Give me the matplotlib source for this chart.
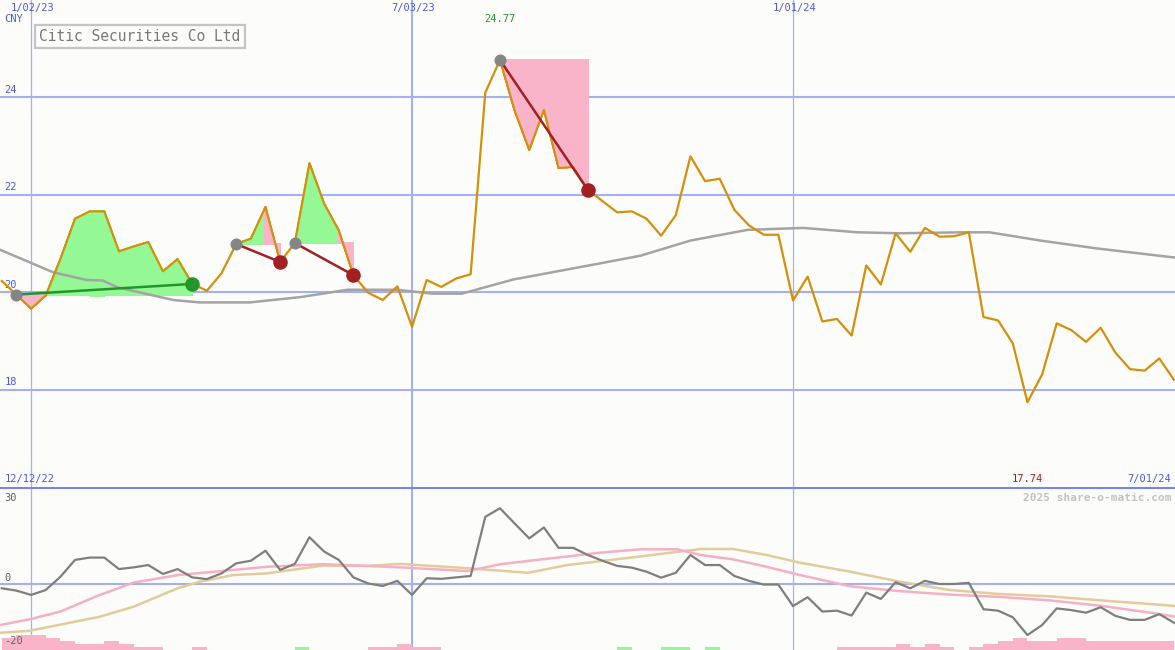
import numpy as np
import matplotlib
matplotlib.use("Agg")
import matplotlib.pyplot as plt
import matplotlib.transforms as mtransforms

# weekly closes, week 0 = 1/02/23
weeks = np.arange(-2, 79)
price = [20.23, 19.95, 19.66, 19.93, 20.68, 21.51, 21.66, 21.66, 20.84, 20.94,
         21.03, 20.43, 20.68, 20.17, 20.03, 20.39, 20.99, 21.10, 21.75, 20.62,
         21.01, 22.65, 21.82, 21.27, 20.35, 19.99, 19.84, 20.12, 19.29, 20.25,
         20.11, 20.28, 20.37, 24.10, 24.77, 23.73, 22.92, 23.74, 22.55, 22.57,
         22.10, 21.87, 21.64, 21.66, 21.51, 21.16, 21.58, 22.79, 22.28, 22.33,
         21.69, 21.37, 21.18, 21.18, 19.83, 20.32, 19.40, 19.45, 19.11, 20.55,
         20.16, 21.21, 20.83, 21.32, 21.14, 21.15, 21.23, 19.49, 19.42, 18.95,
         17.74, 18.31, 19.36, 19.22, 18.98, 19.27, 18.76, 18.42, 18.39, 18.64,
         18.20]

# long moving average (read at a few points)
ma_weeks = [-2.1, 1.5, 3.8, 4.9, 5.9, 9.7, 11.5, 14.9, 18.4, 21.6, 25, 27.4, 29.4,
            30.6, 32.9, 36.3, 38.8, 41.6, 45, 48.9, 52.7, 56.4, 59.3, 63.6, 65.4,
            68.9, 72.7, 78.1]
ma_vals = [20.87, 20.41, 20.25, 20.24, 20.10, 19.84, 19.79, 19.79, 19.90, 20.05,
           20.05, 19.97, 19.97, 20.07, 20.26, 20.45, 20.59, 20.75, 21.06, 21.28,
           21.32, 21.23, 21.21, 21.23, 21.23, 21.06, 20.90, 20.71]

# (start week, end week, rising?)
events = [(-1, 11, True), (14, 17, False), (18, 22, False), (32, 38, False)]

# lower panel
mom = [-1.6, -2.4, -3.9, -2.2, 2.4, 8.3, 9.1, 9.1, 5.1, 5.7, 6.5, 3.4, 5.1, 2.2,
       1.6, 3.6, 7.1, 8.0, 11.5, 4.8, 6.9, 16.2, 11.2, 8.3, 2.2, 0.1, -0.8, 1.0,
       -3.9, 1.9, 1.7, 2.2, 2.7, 23.3, 26.3, 21.0, 15.8, 19.6, 12.5, 12.5, 10.0,
       8.0, 6.2, 5.6, 4.2, 2.1, 3.8, 10.0, 6.5, 6.5, 2.7, 1.0, -0.3, -0.3, -7.8,
       -4.7, -9.7, -9.4, -11.1, -3.1, -5.3, 0.5, -1.6, 1.0, -0.1, -0.1, 0.3,
       -8.9, -9.4, -11.7, -17.9, -14.4, -8.6, -9.2, -10.1, -8.2, -11.2, -12.6,
       -12.6, -10.6, -13.6]

pink_weeks = [-2.1, -0.1, 2.0, 4.7, 7.0, 10.0, 13.8, 16.1, 19.9, 22.5, 25.2, 29.8,
              32.0, 35.4, 38.8, 41.6, 44.1, 45.7, 47.9, 50.2, 52.5, 55.9, 59.3,
              62.7, 66.1, 69.5, 73.0, 76.4, 78.1]
pink_vals = [-14.4, -12.4, -9.7, -3.9, 0.4, 3.0, 4.8, 5.9, 6.8, 6.3, 5.7, 4.4, 6.8,
             8.8, 10.8, 12.0, 12.0, 10.0, 8.5, 5.9, 3.0, -0.9, -2.6, -3.8, -4.6,
             -5.8, -7.7, -10.1, -11.5]

tan_weeks = [-2.1, -0.1, 4.7, 7.0, 10.0, 11.5, 13.8, 16.1, 19.9, 22.9, 25.2, 29.8,
             33.9, 36.6, 41.1, 45.7, 47.9, 50.2, 52.5, 55.9, 59.3, 62.7, 66.1,
             69.5, 73.0, 76.4, 78.1]
tan_vals = [-17.1, -16.4, -11.5, -8.0, -1.6, 0.7, 3.0, 3.6, 6.3, 6.2, 6.9, 5.4,
            3.8, 6.5, 9.2, 12.1, 12.1, 10.0, 7.3, 4.2, 0.7, -2.2, -3.6, -4.4,
            -5.8, -7.1, -7.8]

# histogram levels per week from week -2 (negative = pink, positive = green)
hist = [-4, -5, -5, -4, -3, -2, -2, -3, -2, -1, -1,
        0, 0, -1,
        0, 0, 0, 0, 0, 0,
        1,
        0, 0, 0, 0,
        -1, -1, -2, -1, -1,
        0, 0, 0, 0, 0, 0, 0, 0, 0, 0, 0, 0,
        1, 0, 0, 1, 1, 0, 1,
        0, 0, 0, 0, 0, 0, 0, 0,
        -1, -1, -1, -1, -2, -1, -2, -1, 0, -1, -2, -3, -4, -3, -3, -4, -4,
        -3, -3, -3, -3, -3, -3]

date_weeks = [0, 26, 52]
date_labels = ["1/02/23", "7/03/23", "1/01/24"]
price_grid = [18, 20, 22, 24]

bg = "#fcfdfa"
grid_c = "#a3b1f2"
blue_txt = "#4a5ae8"
gold = "#d4900a"
green_fill = "#94f894"
pink_fill = "#f9b4c9"
mono = "DejaVu Sans Mono"

fig = plt.figure(figsize=(11.75, 6.5), dpi=100, facecolor=bg)
ax = fig.add_axes([0, 163 / 650, 1, 487 / 650])
bx = fig.add_axes([0, 0, 1, 163 / 650])
xmin, xmax = -2.12, 78.07
top_tr = mtransforms.blended_transform_factory(ax.transData, ax.transAxes)

# ---- main panel
ax.set_xlim(xmin, xmax)
ax.set_ylim(16, 26)
ax.set_axis_off()
for g in price_grid:
    ax.axhline(g, color=grid_c, lw=1.5, zorder=1)
    ax.text(xmin + 0.3, g + 0.05, str(g), color=blue_txt, fontsize=7.5,
            family=mono, va="bottom", ha="left")
for w, lab in zip(date_weeks, date_labels):
    ax.axvline(w, color=grid_c, lw=1.5 if w == 26 else 0.9, zorder=1)
    bx.axvline(w, color=grid_c, lw=1.5 if w == 26 else 0.9, zorder=1)
    ax.text(w + 0.1, 0.984, lab, transform=top_tr, color=blue_txt,
            fontsize=7.5, family=mono, ha="center", va="center")
ax.text(0.004, 0.961, "CNY", transform=ax.transAxes, color=blue_txt, fontsize=7.5,
        family=mono, va="center", ha="left")

p = np.array(price)
for s, e, up in events:
    base = p[weeks == s][0]
    for w0 in range(s, e):
        y0, y1 = p[weeks == w0][0], p[weeks == w0 + 1][0]
        c = green_fill if y1 >= base else pink_fill
        ax.fill([w0, w0 + 1, w0 + 1, w0], [y0, y1, base, base], facecolor=c,
                edgecolor=c, lw=0.8, antialiased=False, zorder=2)

ax.plot(ma_weeks, ma_vals, color="#a4a4a4", lw=1.8, zorder=3)
ax.plot(weeks, price, color=gold, lw=1.6, zorder=4)

for s, e, up in events:
    ps, pe = p[weeks == s][0], p[weeks == e][0]
    lc = "#22962a" if up else "#a21f22"
    ax.plot([s, e], [ps, pe], color=lc, lw=1.8, zorder=5)
    ax.scatter([s], [ps], s=75, color="#858585", zorder=6, lw=0)
    ax.scatter([e], [pe], s=110, color=lc, zorder=6, lw=0)

hi = int(np.argmax(p))
lo = int(np.argmin(p))
ax.text(weeks[hi], 0.96, f"{p[hi]:.2f}", transform=top_tr,
        color="#22962a", fontsize=7.5, family=mono, ha="center", va="center")
ax.text(weeks[lo], 0.016, f"{p[lo]:.2f}", transform=top_tr,
        color="#a21f22", fontsize=7.5, family=mono, ha="center", va="center")
ax.text(0.004, 0.016, "12/12/22", transform=ax.transAxes, color=blue_txt,
        fontsize=7.5, family=mono, ha="left", va="center")
ax.text(0.997, 0.016, "7/01/24", transform=ax.transAxes, color=blue_txt,
        fontsize=7.5, family=mono, ha="right", va="center")
ax.text(0.119, 0.925, "Citic Securities Co Ltd", transform=ax.transAxes,
        color="#7a7a7a", fontsize=10.5, family=mono, ha="center", va="center",
        bbox=dict(boxstyle="square,pad=0.3", fc=bg, ec="#c4c4c4", lw=1.6))

# ---- lower panel
ymin, ymax = -23.1, 33.7
bx.set_xlim(xmin, xmax)
bx.set_ylim(ymin, ymax)
bx.set_axis_off()
bx.axhline(ymax, color="#7584ee", lw=2.2, zorder=6)
bx.axhline(0, color=grid_c, lw=1.5, zorder=1)
h = np.array(hist)
bx.bar(weeks[:-1], np.abs(h) * 1.045, bottom=ymin, width=1, align="edge",
       color=[green_fill if v > 0 else pink_fill for v in h], lw=0, zorder=2)
bx.plot(tan_weeks, tan_vals, color="#e3cb9c", lw=1.8, zorder=3)
bx.plot(pink_weeks, pink_vals, color="#f7afc6", lw=1.8, zorder=3)
bx.plot(weeks, mom, color="#7f7f7f", lw=1.6, zorder=4)
for v, lab in [(30, "30"), (2, "0"), (-20, "-20")]:
    bx.text(xmin + 0.3, v, lab, color="#606060", fontsize=7.5, family=mono,
            va="center", ha="left")
bx.text(0.997, 0.935, "2025 share-o-matic.com", transform=bx.transAxes,
        color="#c2c2c2", fontsize=8, family=mono, weight="bold", ha="right",
        va="center")

fig.savefig("out.png", dpi=100, facecolor=bg)
